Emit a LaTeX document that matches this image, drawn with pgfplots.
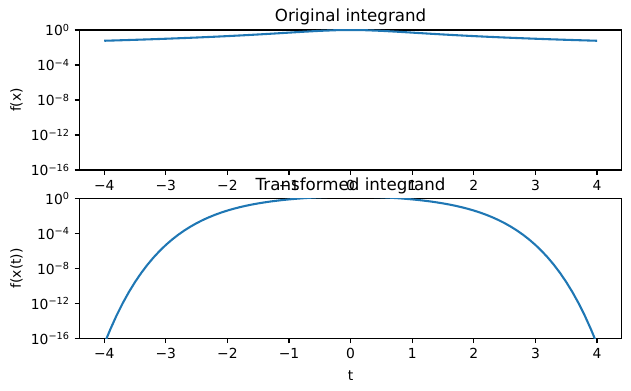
\documentclass[border=0pt]{standalone}
\usepackage{pgfplots}
\pgfplotsset{compat=1.18}
\usepackage{pgfplotstable}
\usepackage{fontspec}
\setmainfont{DejaVu Sans}
\definecolor{mplblue}{HTML}{1F77B4}

\pgfplotstableread{
x y
-4.00 0.058824
-3.75 0.066390
-3.50 0.075472
-3.25 0.086486
-3.00 0.1
-2.75 0.116788
-2.50 0.137931
-2.25 0.164948
-2.00 0.2
-1.75 0.246154
-1.50 0.307692
-1.25 0.390244
-1.00 0.5
-0.75 0.64
-0.50 0.8
-0.25 0.941176
0.00 1.0
0.25 0.941176
0.50 0.8
0.75 0.64
1.00 0.5
1.25 0.390244
1.50 0.307692
1.75 0.246154
2.00 0.2
2.25 0.164948
2.50 0.137931
2.75 0.116788
3.00 0.1
3.25 0.086486
3.50 0.075472
3.75 0.066390
4.00 0.058824
}\original

\pgfplotstableread{
t y
-4.0 2.0730e-17
-3.95 1.5980e-16
-3.9 1.1155e-15
-3.8 4.0502e-14
-3.7 1.0363e-12
-3.6 1.9308e-11
-3.5 2.6998e-10
-3.4 2.9103e-9
-3.3 2.4806e-8
-3.2 1.7082e-7
-3.1 9.7060e-7
-3.0 4.6344e-6
-2.9 1.8903e-5
-2.8 6.6879e-5
-2.7 2.0806e-4
-2.6 5.7622e-4
-2.5 0.0014367
-2.4 0.0032582
-2.3 0.0067825
-2.2 0.013070
-2.1 0.023492
-2.0 0.039689
-1.9 0.063294
-1.8 0.096027
-1.7 0.13923
-1.6 0.19387
-1.5 0.26035
-1.4 0.33852
-1.3 0.42768
-1.2 0.52660
-1.1 0.63363
-1.0 0.74670
-0.9 0.86340
-0.8 0.98103
-0.7 1.09655
-0.6 1.20670
-0.5 1.30805
-0.4 1.39711
-0.3 1.47056
-0.2 1.52540
-0.1 1.55932
0.0 1.5708
0.1 1.55932
0.2 1.52540
0.3 1.47056
0.4 1.39711
0.5 1.30805
0.6 1.20670
0.7 1.09655
0.8 0.98103
0.9 0.86340
1.0 0.74670
1.1 0.63363
1.2 0.52660
1.3 0.42768
1.4 0.33852
1.5 0.26035
1.6 0.19387
1.7 0.13923
1.8 0.096027
1.9 0.063294
2.0 0.039689
2.1 0.023492
2.2 0.013070
2.3 0.0067825
2.4 0.0032582
2.5 0.0014367
2.6 5.7622e-4
2.7 2.0806e-4
2.8 6.6879e-5
2.9 1.8903e-5
3.0 4.6344e-6
3.1 9.7060e-7
3.2 1.7082e-7
3.3 2.4806e-8
3.4 2.9103e-9
3.5 2.6998e-10
3.6 1.9308e-11
3.7 1.0363e-12
3.8 4.0502e-14
3.9 1.1155e-15
3.95 1.5980e-16
4.0 2.0730e-17
}\transformed

\pgfplotsset{
  mplstyle/.style={
    scale only axis,
    width=406.5pt, height=105pt,
    xmin=-4.4, xmax=4.4,
    xtick={-4,-3,-2,-1,0,1,2,3,4},
    xticklabels={−4,−3,−2,−1,0,1,2,3,4},
    ytick={1e-16,1e-12,1e-8,1e-4,1},
    yticklabels={10\textsuperscript{−16},10\textsuperscript{−12},10\textsuperscript{−8},10\textsuperscript{−4},10\textsuperscript{0}},
    yminorticks=false,
    tick pos=left,
    tick align=outside,
    major tick length=3.65pt,
    every tick/.style={black, line width=0.83pt},
    axis line style={line width=0.83pt},
    tick label style={font=\fontsize{10.4}{12.5}\selectfont},
    xticklabel style={inner sep=0pt, anchor=north, yshift=-3.6pt},
    yticklabel style={inner sep=0pt, anchor=east, xshift=-3.6pt},
    label style={font=\fontsize{10.4}{12.5}\selectfont},
    title style={at={(0.5,1)}, anchor=base, yshift=0.2pt, inner sep=0pt},
    ylabel style={at={(axis description cs:-0.1166,0.5)}, anchor=center},
    xlabel style={at={(axis description cs:0.5,-0.298)}, anchor=base},
  }
}

\begin{document}
\begin{tikzpicture}
\path[use as bounding box] (-59.7pt,-165.7pt) rectangle (413.5pt,127.5pt);
\begin{axis}[ymode=log, ymin=1e-16, ymax=1, mplstyle, at={(0pt,0pt)}, anchor=south west,
  title={\fontsize{12.5}{15}\selectfont Original integrand}, ylabel={f(x)}]
\addplot[mplblue, line width=1.56pt] table[x=x,y=y] {\original};
\end{axis}
\begin{axis}[ymode=log, ymin=1e-16, ymax=1, mplstyle, at={(0pt,-126.2pt)}, anchor=south west,
  title={\fontsize{12.5}{15}\selectfont Transformed integrand}, ylabel={f(x(t))}, xlabel={t}]
\addplot[mplblue, line width=1.56pt] table[x=t,y=y] {\transformed};
\end{axis}
\end{tikzpicture}
\end{document}
